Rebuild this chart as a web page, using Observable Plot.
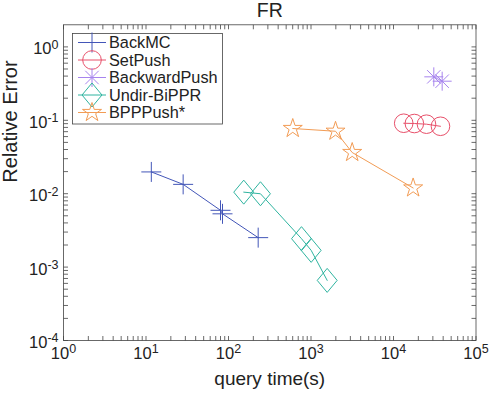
<!DOCTYPE html>
<html><head><meta charset="utf-8">
<script src="https://cdn.jsdelivr.net/npm/d3@7"></script>
<script src="https://cdn.jsdelivr.net/npm/@observablehq/plot@0.6"></script>
<style>body{margin:0;background:#fff}</style>
</head><body><div id="chart"></div>
<script>
const titleText = "FR";
const xLabel = "query time(s)";
const yLabel = "Relative Error";
const seriesNames = ["BackMC", "SetPush", "BackwardPush", "Undir-BiPPR", "BPPPush*"];
const seriesColors = ["#4356b8", "#e8506a", "#a784ee", "#2fb4a0", "#f29c55"];

const backMCTime = [11.6, 28.2, 80, 84.6, 229];
const backMCErr = [0.0198, 0.0134, 0.00594, 0.00532, 0.00252];
const setPushTime = [13300, 17900, 25100, 37100];
const setPushErr = [0.0912, 0.0904, 0.0885, 0.0829];
const backwardPushTime = [30800, 38900];
const backwardPushErr = [0.391, 0.341];
const undirTime = [153, 244, 767, 1005, 1571];
const undirErr = [0.0105, 0.00998, 0.00244, 0.00169, 0.000659];
const bpppTime = [601, 1982, 3157, 17300];
const bpppErr = [0.0773, 0.0709, 0.0364, 0.01197];

const xTickValues = [1, 10, 100, 1000, 10000, 100000];
const xTickLabels = ["10^0", "10^1", "10^2", "10^3", "10^4", "10^5"];
const yTickValues = [1e-4, 1e-3, 1e-2, 1e-1, 1];
const yTickLabels = ["10^-4", "10^-3", "10^-2", "10^-1", "10^0"];

function minorTicks(majors) {
  const out = [];
  for (const m of majors.slice(0, -1)) for (let k = 2; k < 10; k++) out.push(m * k);
  return out;
}
const xAllTicks = [...xTickValues, ...minorTicks(xTickValues)];
const yAllTicks = [...yTickValues, ...minorTicks(yTickValues)];

const rad = s => Math.sqrt(s / Math.PI);
const symPlus = {draw(c, s) { const r = rad(s); c.moveTo(-r, 0); c.lineTo(r, 0); c.moveTo(0, -r); c.lineTo(0, r); }};
const symAsterisk = {draw(c, s) { const r = rad(s), d = r * Math.SQRT1_2;
  c.moveTo(-r, 0); c.lineTo(r, 0); c.moveTo(0, -r); c.lineTo(0, r);
  c.moveTo(-d, -d); c.lineTo(d, d); c.moveTo(-d, d); c.lineTo(d, -d); }};
const symDiamond = {draw(c, s) { const r = rad(s), w = r * 0.83;
  c.moveTo(0, -r); c.lineTo(w, 0); c.lineTo(0, r); c.lineTo(-w, 0); c.closePath(); }};
const symStar = {draw(c, s) { const R = rad(s), ri = R * 0.382;
  for (let i = 0; i < 10; i++) { const a = -Math.PI / 2 + i * Math.PI / 5, q = i % 2 ? ri : R;
    const x = q * Math.cos(a), y = q * Math.sin(a); if (i === 0) c.moveTo(x, y); else c.lineTo(x, y); }
  c.closePath(); }};
const symbols = [symPlus, d3.symbolCircle, symAsterisk, symDiamond, symStar];
const symR = [10, 9.3, 9.5, 12, 10];

const times = [backMCTime, setPushTime, backwardPushTime, undirTime, bpppTime];
const errs = [backMCErr, setPushErr, backwardPushErr, undirErr, bpppErr];
const table = seriesNames.map((name, i) => times[i].map((t, j) => ({name, t, e: errs[i][j]})));

const tickShape = {draw(c, l) { c.moveTo(0, 0); c.lineTo(0, -l); }};
const axisColor = "#444";
const tk = {length: 4.5, anchor: "start", shape: tickShape, stroke: axisColor, strokeWidth: 0.8, strokeLinecap: "butt"};

const xTicks = xTickValues.map((v, i) => ({v, label: xTickLabels[i]}));
const yTicks = yTickValues.map((v, i) => ({v, label: yTickLabels[i]}));

const seriesMarks = [];
table.forEach((rows, i) => {
  seriesMarks.push(Plot.line(rows, {x: "t", y: "e", stroke: seriesColors[i], strokeWidth: 1}));
  seriesMarks.push(Plot.dot(rows, {x: "t", y: "e", r: symR[i], symbol: symbols[i], stroke: seriesColors[i], fill: "none", strokeWidth: 1}));
});

const chart = Plot.plot({
  width: 491, height: 393,
  marginLeft: 63, marginRight: 15.5, marginTop: 24.3, marginBottom: 53,
  x: {type: "log", domain: [1, 1e5], axis: null},
  y: {type: "log", domain: [1e-4, 2], axis: null},
  style: {fontFamily: "'Liberation Sans', Arial, Helvetica, sans-serif", background: "white", color: "#222"},
  marks: [
    Plot.frame({stroke: axisColor, strokeWidth: 0.8}),
    Plot.vectorX(xAllTicks, {...tk, frameAnchor: "bottom", rotate: 0}),
    Plot.vectorX(xAllTicks, {...tk, frameAnchor: "top", rotate: 180}),
    Plot.vectorY(yAllTicks, {...tk, frameAnchor: "left", rotate: 90}),
    Plot.vectorY(yAllTicks, {...tk, frameAnchor: "right", rotate: 270}),
    Plot.text(xTicks, {x: "v", text: "label", frameAnchor: "bottom", lineAnchor: "bottom", dy: 18.3, fontSize: 16.5, fill: "#222"}),
    Plot.text(yTicks, {y: "v", text: "label", frameAnchor: "left", lineAnchor: "bottom", textAnchor: "end", dx: -5, dy: 7.5, fontSize: 16.5, fill: "#222"}),
    Plot.text([xLabel], {frameAnchor: "bottom", lineAnchor: "bottom", dy: 44, fontSize: 19, fill: "#222"}),
    Plot.text([yLabel], {frameAnchor: "left", rotate: -90, lineAnchor: "bottom", dx: -46.5, fontSize: 20, fill: "#222"}),
    Plot.text([titleText], {frameAnchor: "top", lineAnchor: "bottom", dy: -7.6, fontSize: 19.5, fill: "#222"}),
    ...seriesMarks
  ]
});

const svg = d3.select(chart);
svg.selectAll("text").each(function() {
  const m = /^10\^(.+)$/.exec(this.textContent);
  if (m) {
    const t = d3.select(this);
    t.text("");
    t.append("tspan").text("10");
    t.append("tspan").attr("font-size", "12.5").attr("dy", "-5.7").text(m[1]);
  }
});

// legend
const lg = svg.append("g").attr("text-anchor", "start");
lg.append("rect").attr("x", 72.5).attr("y", 33.5).attr("width", 150).attr("height", 90.5)
  .attr("fill", "white").attr("stroke", axisColor).attr("stroke-width", 0.8);
seriesNames.forEach((n, i) => {
  const yy = 42.5 + i * 17.5;
  lg.append("line").attr("x1", 78).attr("x2", 106).attr("y1", yy).attr("y2", yy)
    .attr("stroke", seriesColors[i]).attr("stroke-width", 1);
  lg.append("path").attr("d", d3.symbol(symbols[i], symR[i] * symR[i] * Math.PI)())
    .attr("transform", `translate(92,${yy})`).attr("fill", "none")
    .attr("stroke", seriesColors[i]).attr("stroke-width", 1);
  lg.append("text").attr("x", 109).attr("y", yy + 5.7).attr("font-size", 16.3)
    .attr("text-anchor", "start").attr("fill", "#222").text(n);
});

document.getElementById("chart").appendChild(chart);
</script>
</body></html>
